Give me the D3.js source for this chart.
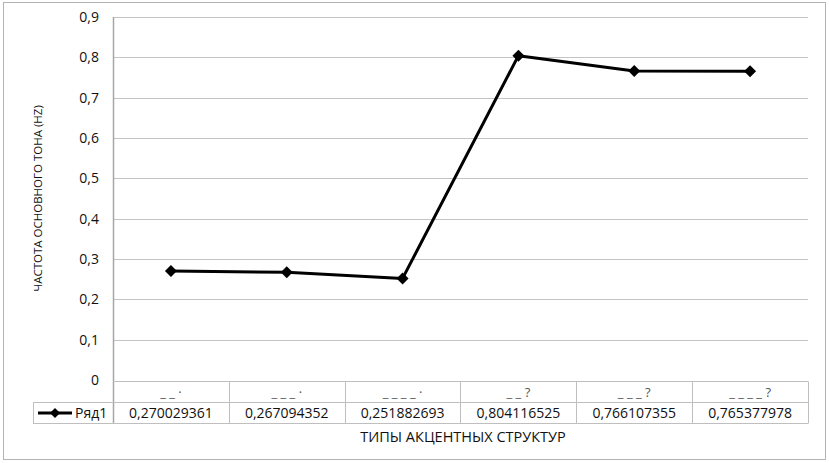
<!DOCTYPE html>
<meta charset="utf-8">
<head>
  <title>Частота основного тона</title>
</head>
<script src="https://d3js.org/d3.v7.min.js"></script>
<style>
  body { margin: 0; background: #fff; }
  text { font-family: "Open Sans", "Noto Sans", sans-serif; fill: #111; }
</style>
<body>
  <div id="chart"></div>
</body>
<script>
  // data
  var categories = ["_ _ ·", "_ _ _ ·", "_ _ _ _ ·", "_ _ ?", "_ _ _ ?", "_ _ _ _ ?"];
  var values = [0.270029361, 0.267094352, 0.251882693, 0.804116525, 0.766107355, 0.765377978];
  var valueLabels = ["0,270029361", "0,267094352", "0,251882693", "0,804116525", "0,766107355", "0,765377978"];
  var yTicks = [0, 0.1, 0.2, 0.3, 0.4, 0.5, 0.6, 0.7, 0.8, 0.9];
  var seriesName = "Ряд1";

  var W = 829, H = 463;
  var pLeft = 113, pRight = 808, pTop = 17, pBottom = 380;
  var rowH = 21;

  var svg = d3.select("#chart").append("svg")
    .attr("width", W).attr("height", H);

  // outer frame
  svg.append("rect")
    .attr("x", 3.5).attr("y", 2.5)
    .attr("width", 822).attr("height", 457)
    .attr("fill", "white").attr("stroke", "#b3b3b3");

  var x = d3.scaleBand().domain(categories).range([pLeft, pRight]);
  var y = d3.scaleLinear().domain([0, 0.9]).range([pBottom, pTop]);
  var cx = function (i) { return x(categories[i]) + x.bandwidth() / 2 };

  // gridlines
  svg.append("g").selectAll("line")
    .data(yTicks.slice(1))
    .enter().append("line")
    .attr("x1", pLeft).attr("x2", pRight)
    .attr("y1", function (d) { return Math.round(y(d)) + 0.5 })
    .attr("y2", function (d) { return Math.round(y(d)) + 0.5 })
    .attr("stroke", "#c4c4c4").attr("stroke-width", 1);

  // y labels
  svg.append("g").selectAll("text")
    .data(yTicks)
    .enter().append("text")
    .attr("x", 99)
    .attr("y", function (d) { return y(d) + 5 })
    .attr("text-anchor", "end")
    .style("font-size", "14px")
    .text(function (d) { return d === 0 ? "0" : d3.format(".1f")(d).replace(".", ",") });

  // left axis line
  svg.append("line")
    .attr("x1", pLeft + 0.5).attr("x2", pLeft + 0.5)
    .attr("y1", pTop).attr("y2", pBottom + 1 + 2 * rowH)
    .attr("stroke", "#a6a6a6").attr("stroke-width", 1.5);

  // data table
  var tbl = svg.append("g").attr("stroke", "#bfbfbf").attr("fill", "none");
  tbl.append("line").attr("x1", pLeft).attr("x2", pRight)
    .attr("y1", pBottom + 1.5).attr("y2", pBottom + 1.5);
  tbl.append("line").attr("x1", 33).attr("x2", pRight)
    .attr("y1", pBottom + 1.5 + rowH).attr("y2", pBottom + 1.5 + rowH);
  tbl.append("line").attr("x1", 33).attr("x2", pRight)
    .attr("y1", pBottom + 1.5 + 2 * rowH).attr("y2", pBottom + 1.5 + 2 * rowH);
  tbl.append("line").attr("x1", 33.5).attr("x2", 33.5)
    .attr("y1", pBottom + 1.5 + rowH).attr("y2", pBottom + 1.5 + 2 * rowH);
  tbl.selectAll(".col")
    .data(categories)
    .enter().append("line")
    .attr("x1", function (d) { return Math.round(x(d) + x.bandwidth()) + 0.5 })
    .attr("x2", function (d) { return Math.round(x(d) + x.bandwidth()) + 0.5 })
    .attr("y1", pBottom + 1.5).attr("y2", pBottom + 1.5 + 2 * rowH);

  svg.append("g").selectAll("text")
    .data(categories)
    .enter().append("text")
    .attr("x", function (d, i) { return cx(i) })
    .attr("y", pBottom + 17)
    .attr("text-anchor", "middle")
    .style("font-size", "13px")
    .style("fill", "#555")
    .text(function (d) { return d });

  svg.append("g").selectAll("text")
    .data(valueLabels)
    .enter().append("text")
    .attr("x", function (d, i) { return cx(i) })
    .attr("y", pBottom + rowH + 17)
    .attr("text-anchor", "middle")
    .style("font-size", "14px")
    .text(function (d) { return d });

  var diamond = function (size) { return d3.symbol().type(d3.symbolSquare).size(size)() };

  // legend key in table
  svg.append("line")
    .attr("x1", 38).attr("x2", 72)
    .attr("y1", pBottom + rowH + 12).attr("y2", pBottom + rowH + 12)
    .attr("stroke", "black").attr("stroke-width", 3);
  svg.append("path")
    .attr("d", diamond(50))
    .attr("transform", "translate(55," + (pBottom + rowH + 12) + ") rotate(45)")
    .attr("fill", "black");
  svg.append("text")
    .attr("x", 75).attr("y", pBottom + rowH + 17)
    .style("font-size", "14px")
    .text(seriesName);

  // series line
  svg.append("path")
    .datum(values)
    .attr("d", d3.line()
      .x(function (d, i) { return cx(i) })
      .y(function (d) { return y(d) }))
    .attr("fill", "none")
    .attr("stroke", "black")
    .attr("stroke-width", 3)
    .attr("stroke-linejoin", "round");

  svg.append("g").selectAll("path")
    .data(values)
    .enter().append("path")
    .attr("d", diamond(72))
    .attr("transform", function (d, i) {
      return "translate(" + cx(i) + "," + y(d) + ") rotate(45)"
    })
    .attr("fill", "black");

  // axis titles
  svg.append("text")
    .attr("x", 463).attr("y", 442)
    .attr("text-anchor", "middle")
    .style("font-size", "14.5px")
    .text("ТИПЫ АКЦЕНТНЫХ СТРУКТУР");

  svg.append("text")
    .attr("transform", "translate(42," + ((pTop + pBottom) / 2) + ") rotate(-90)")
    .attr("text-anchor", "middle")
    .style("font-size", "11.5px")
    .text("ЧАСТОТА ОСНОВНОГО ТОНА (HZ)");
</script>
